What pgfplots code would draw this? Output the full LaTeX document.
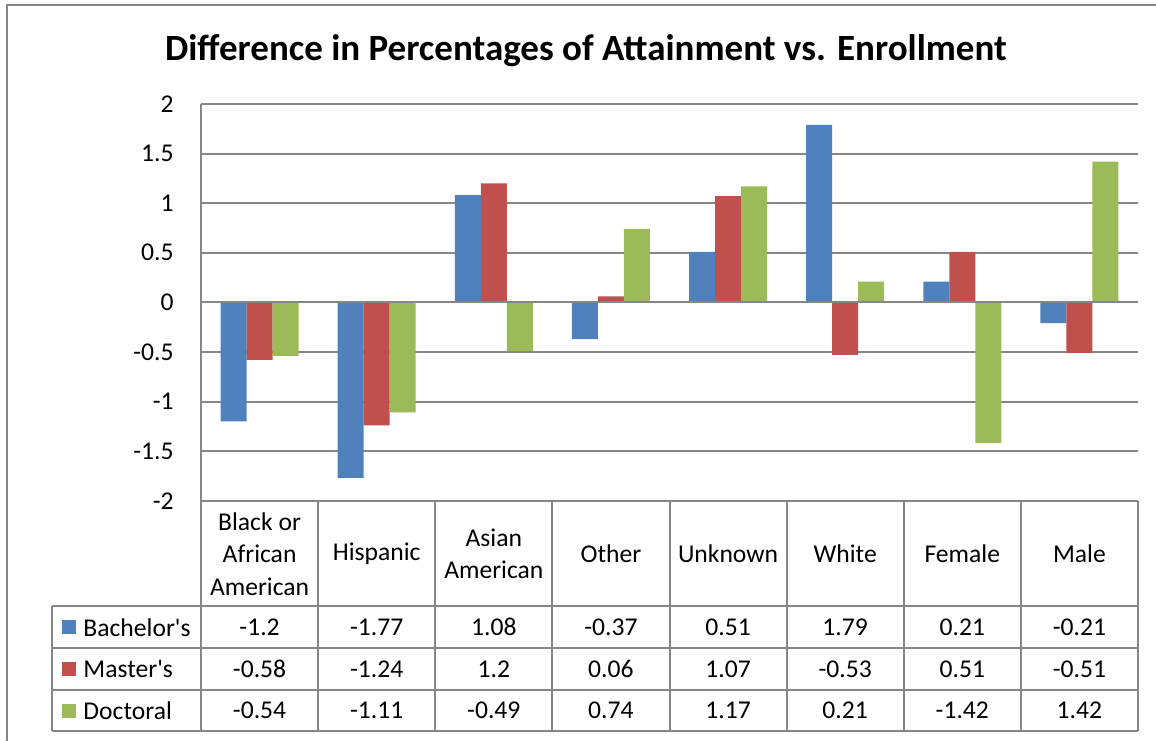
\documentclass[border=0pt]{standalone}
\usepackage{pgfplots}
\pgfplotsset{compat=1.18}
\usepackage{fontspec}
\setmainfont{Carlito}
\definecolor{cblue}{HTML}{4F81BD}
\definecolor{cred}{HTML}{C0504D}
\definecolor{cgreen}{HTML}{9BBB59}
\definecolor{cgrid}{HTML}{868686}
\newcommand{\tf}{\fontsize{12.8}{16.25}\selectfont}
\begin{document}
\begin{tikzpicture}
\useasboundingbox (0,0) rectangle (578pt,370pt);
\draw[cgrid, line width=1pt] (3.5pt,-2pt) -- (3.5pt,367.5pt) -- (580pt,367.5pt);
\node[font=\fontsize{18.5}{22}\selectfont\bfseries] at (293pt,344.5pt) {Difference in Percentages of Attainment vs. Enrollment};
\begin{axis}[
  at={(100.5pt,119.65pt)}, anchor=south west,
  width=468.5pt, height=198.35pt, scale only axis,
  xmin=-0.5, xmax=7.5, ymin=-2, ymax=2,
  ytick={-2,-1.5,-1,-0.5,0,0.5,1,1.5,2},
  yticklabels={-2,-1.5,-1,-0.5,0,0.5,1,1.5,2},
  xtick=\empty,
  ymajorgrids, grid style={cgrid, line width=1pt},
  axis line style={draw=none}, major tick length=0pt,
  yticklabel style={anchor=east, inner sep=0pt, xshift=-13.5pt, font=\tf},
  ybar, bar width=13pt,
  clip=false,
]
\addplot[fill=cblue, draw=none, bar shift=-13pt] coordinates {(0,-1.2) (1,-1.77) (2,1.08) (3,-0.37) (4,0.51) (5,1.79) (6,0.21) (7,-0.21)};
\addplot[fill=cred, draw=none, bar shift=0pt] coordinates {(0,-0.58) (1,-1.24) (2,1.2) (3,0.06) (4,1.07) (5,-0.53) (6,0.51) (7,-0.51)};
\addplot[fill=cgreen, draw=none, bar shift=13pt] coordinates {(0,-0.54) (1,-1.11) (2,-0.49) (3,0.74) (4,1.17) (5,0.21) (6,-1.42) (7,1.42)};
% zero line and table rules
\draw[cgrid, line width=1pt] (axis cs:-0.5,0) -- (axis cs:7.5,0);
\draw[cgrid, line width=1pt] (axis cs:-0.5,2) -- (axis cs:-0.5,-4.325);
\draw[cgrid, line width=1pt] (axis cs:7.5,-2) -- (axis cs:7.5,-4.325);
\draw[cgrid, line width=1pt] (axis cs:0.5,-2) -- (axis cs:0.5,-4.325);
\draw[cgrid, line width=1pt] (axis cs:1.5,-2) -- (axis cs:1.5,-4.325);
\draw[cgrid, line width=1pt] (axis cs:2.5,-2) -- (axis cs:2.5,-4.325);
\draw[cgrid, line width=1pt] (axis cs:3.5,-2) -- (axis cs:3.5,-4.325);
\draw[cgrid, line width=1pt] (axis cs:4.5,-2) -- (axis cs:4.5,-4.325);
\draw[cgrid, line width=1pt] (axis cs:5.5,-2) -- (axis cs:5.5,-4.325);
\draw[cgrid, line width=1pt] (axis cs:6.5,-2) -- (axis cs:6.5,-4.325);
\draw[cgrid, line width=1pt] (axis cs:-1.772,-3.065) -- (axis cs:-1.772,-4.325);
\draw[cgrid, line width=1pt] (axis cs:-1.772,-3.065) -- (axis cs:7.5,-3.065);
\draw[cgrid, line width=1pt] (axis cs:-1.772,-3.488) -- (axis cs:7.5,-3.488);
\draw[cgrid, line width=1pt] (axis cs:-1.772,-3.911) -- (axis cs:7.5,-3.911);
\draw[cgrid, line width=1pt] (axis cs:-1.772,-4.325) -- (axis cs:7.5,-4.325);
% header
\node[align=center, font=\tf] at (axis cs:0,-2.535) {Black or\\African\\American};
\node[align=center, font=\tf] at (axis cs:1,-2.535) {Hispanic};
\node[align=center, font=\tf] at (axis cs:2,-2.535) {Asian\\American};
\node[align=center, font=\tf] at (axis cs:3,-2.535) {Other};
\node[align=center, font=\tf] at (axis cs:4,-2.535) {Unknown};
\node[align=center, font=\tf] at (axis cs:5,-2.535) {White};
\node[align=center, font=\tf] at (axis cs:6,-2.535) {Female};
\node[align=center, font=\tf] at (axis cs:7,-2.535) {Male};
% legend column
\node[fill=cblue, minimum size=7pt, inner sep=0pt] at (axis cs:-1.627,-3.276) {};
\node[fill=cred, minimum size=7pt, inner sep=0pt] at (axis cs:-1.627,-3.700) {};
\node[fill=cgreen, minimum size=7pt, inner sep=0pt] at (axis cs:-1.627,-4.118) {};
\node[anchor=west, inner sep=0pt, font=\tf] at (axis cs:-1.507,-3.276) {Bachelor\textquotesingle s};
\node[anchor=west, inner sep=0pt, font=\tf] at (axis cs:-1.507,-3.700) {Master\textquotesingle s};
\node[anchor=west, inner sep=0pt, font=\tf] at (axis cs:-1.507,-4.118) {Doctoral};
% values
\node[font=\tf] at (axis cs:0,-3.276) {-1.2};
\node[font=\tf] at (axis cs:1,-3.276) {-1.77};
\node[font=\tf] at (axis cs:2,-3.276) {1.08};
\node[font=\tf] at (axis cs:3,-3.276) {-0.37};
\node[font=\tf] at (axis cs:4,-3.276) {0.51};
\node[font=\tf] at (axis cs:5,-3.276) {1.79};
\node[font=\tf] at (axis cs:6,-3.276) {0.21};
\node[font=\tf] at (axis cs:7,-3.276) {-0.21};
\node[font=\tf] at (axis cs:0,-3.700) {-0.58};
\node[font=\tf] at (axis cs:1,-3.700) {-1.24};
\node[font=\tf] at (axis cs:2,-3.700) {1.2};
\node[font=\tf] at (axis cs:3,-3.700) {0.06};
\node[font=\tf] at (axis cs:4,-3.700) {1.07};
\node[font=\tf] at (axis cs:5,-3.700) {-0.53};
\node[font=\tf] at (axis cs:6,-3.700) {0.51};
\node[font=\tf] at (axis cs:7,-3.700) {-0.51};
\node[font=\tf] at (axis cs:0,-4.118) {-0.54};
\node[font=\tf] at (axis cs:1,-4.118) {-1.11};
\node[font=\tf] at (axis cs:2,-4.118) {-0.49};
\node[font=\tf] at (axis cs:3,-4.118) {0.74};
\node[font=\tf] at (axis cs:4,-4.118) {1.17};
\node[font=\tf] at (axis cs:5,-4.118) {0.21};
\node[font=\tf] at (axis cs:6,-4.118) {-1.42};
\node[font=\tf] at (axis cs:7,-4.118) {1.42};
\end{axis}
\end{tikzpicture}
\end{document}
